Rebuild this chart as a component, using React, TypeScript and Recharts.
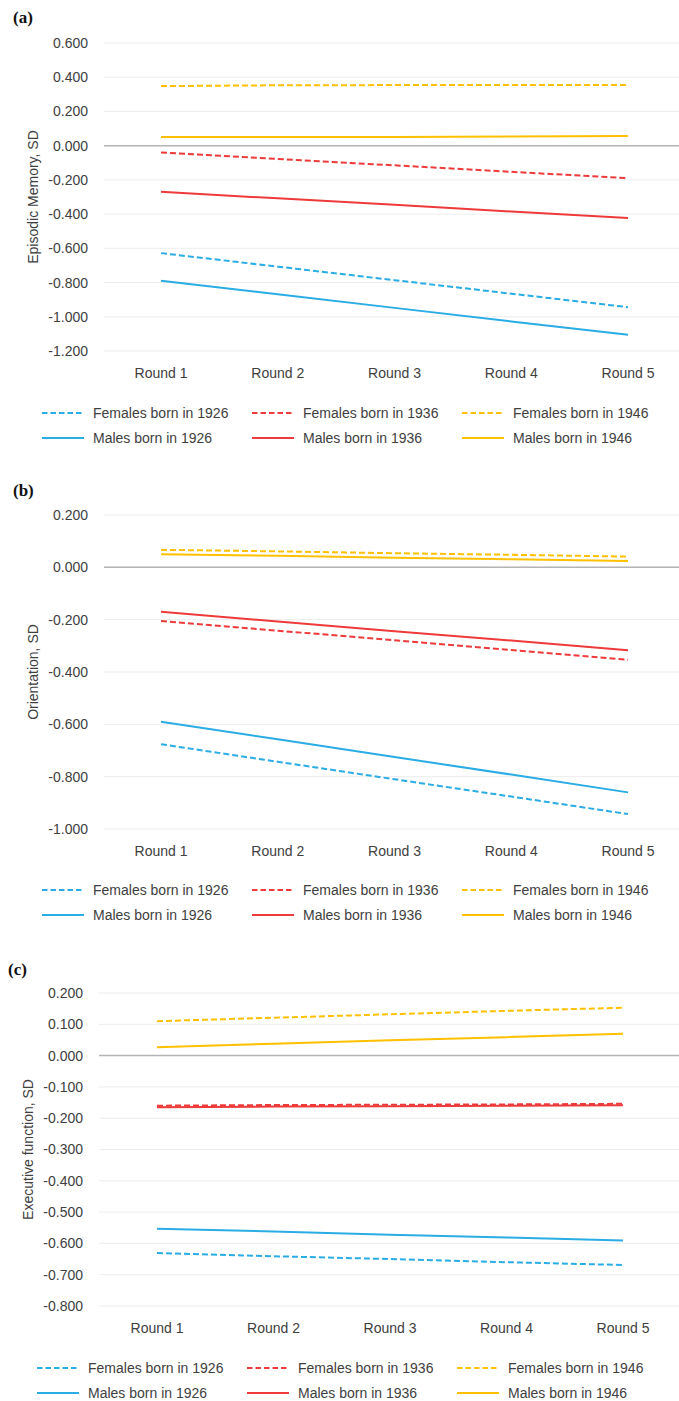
import { CartesianGrid, Legend, Line, LineChart, ReferenceLine, XAxis, YAxis } from "recharts";

const rounds = ["Round 1", "Round 2", "Round 3", "Round 4", "Round 5"];

// (a) Episodic memory
const memF1926 = [-0.628, -0.707, -0.786, -0.865, -0.944];
const memF1936 = [-0.04, -0.078, -0.115, -0.153, -0.19];
const memF1946 = [0.348, 0.353, 0.354, 0.355, 0.355];
const memM1926 = [-0.79, -0.869, -0.948, -1.027, -1.105];
const memM1936 = [-0.27, -0.308, -0.346, -0.385, -0.423];
const memM1946 = [0.05, 0.05, 0.051, 0.054, 0.056];
const memTicks = [0.6, 0.4, 0.2, 0, -0.2, -0.4, -0.6, -0.8, -1.0, -1.2];

// (b) Orientation
const oriF1926 = [-0.676, -0.743, -0.81, -0.876, -0.943];
const oriF1936 = [-0.205, -0.242, -0.279, -0.316, -0.353];
const oriF1946 = [0.067, 0.061, 0.054, 0.048, 0.041];
const oriM1926 = [-0.59, -0.657, -0.725, -0.792, -0.86];
const oriM1936 = [-0.17, -0.207, -0.244, -0.28, -0.317];
const oriM1946 = [0.05, 0.044, 0.037, 0.031, 0.024];
const oriTicks = [0.2, 0, -0.2, -0.4, -0.6, -0.8, -1.0];

// (c) Executive function
const exeF1926 = [-0.631, -0.641, -0.65, -0.66, -0.669];
const exeF1936 = [-0.16, -0.158, -0.157, -0.156, -0.154];
const exeF1946 = [0.11, 0.121, 0.132, 0.143, 0.153];
const exeM1926 = [-0.553, -0.562, -0.572, -0.581, -0.591];
const exeM1936 = [-0.165, -0.163, -0.162, -0.16, -0.159];
const exeM1946 = [0.027, 0.038, 0.049, 0.059, 0.07];
const exeTicks = [0.2, 0.1, 0, -0.1, -0.2, -0.3, -0.4, -0.5, -0.6, -0.7, -0.8];

const BLUE = "#2AACE4";
const RED = "#EE3A3A";
const GOLD = "#FFC000";
const FONT = '"Liberation Sans", Arial, sans-serif';
const TEXT = "#404040";

const series = [
  { key: "f1926", name: "Females born in 1926", color: BLUE, dashed: true },
  { key: "f1936", name: "Females born in 1936", color: RED, dashed: true },
  { key: "f1946", name: "Females born in 1946", color: GOLD, dashed: true },
  { key: "m1926", name: "Males born in 1926", color: BLUE, dashed: false },
  { key: "m1936", name: "Males born in 1936", color: RED, dashed: false },
  { key: "m1946", name: "Males born in 1946", color: GOLD, dashed: false },
];

function rows(f26: number[], f36: number[], f46: number[], m26: number[], m36: number[], m46: number[]) {
  return rounds.map((round, i) => ({
    round,
    f1926: f26[i],
    f1936: f36[i],
    f1946: f46[i],
    m1926: m26[i],
    m1936: m36[i],
    m1946: m46[i],
  }));
}

function LegendGrid({ shift }: { shift: number }) {
  return (
    <div style={{ position: "relative", width: 679, height: 50, fontFamily: FONT, fontSize: 14, color: TEXT }}>
      {series.map((s, i) => {
        const left = 42 + shift + (i % 3) * 210;
        const top = Math.floor(i / 3) * 25;
        return (
          <div key={s.key} style={{ position: "absolute", left, top, height: 25, display: "flex", alignItems: "center", whiteSpace: "nowrap" }}>
            <svg width={42} height={6} style={{ marginRight: 9 }}>
              <line x1={0} y1={3} x2={42} y2={3} stroke={s.color} strokeWidth={2} strokeDasharray={s.dashed ? "5.5 3" : undefined} />
            </svg>
            <span>{s.name}</span>
          </div>
        );
      })}
    </div>
  );
}

interface PanelProps {
  tag: string;
  tagTop: number;
  top: number;
  height: number;
  plotTop: number;
  plotBottom: number;
  axisWidth: number;
  padLeft: number;
  padRight: number;
  ticks: number[];
  title: string;
  titleX: number;
  legendTop: number;
  shift: number;
  data: ReturnType<typeof rows>;
}

function Panel(p: PanelProps) {
  const xAxisHeight = 30;
  const domain = [p.ticks[p.ticks.length - 1], p.ticks[0]];
  const mid = (p.plotTop + p.plotBottom) / 2;
  return (
    <div style={{ position: "absolute", left: 0, top: p.top, width: 679, height: p.height }}>
      <div
        style={{
          position: "absolute",
          left: p.shift + 13,
          top: p.tagTop,
          fontFamily: '"Liberation Serif", "Times New Roman", serif',
          fontWeight: "bold",
          fontSize: 17,
          lineHeight: "17px",
          color: "#111",
          zIndex: 2,
        }}
      >
        {p.tag}
      </div>
      <LineChart
        width={679}
        height={p.height}
        data={p.data}
        margin={{ top: p.plotTop, right: 0, left: 0, bottom: p.height - p.plotBottom - xAxisHeight }}
      >
        <CartesianGrid horizontal vertical={false} stroke="#EDEDED" strokeWidth={1} />
        <XAxis
          dataKey="round"
          axisLine={false}
          tickLine={false}
          tickSize={0}
          tickMargin={17}
          height={xAxisHeight}
          interval={0}
          padding={{ left: p.padLeft, right: p.padRight }}
          tick={{ fontFamily: FONT, fontSize: 14, fill: TEXT }}
        />
        <YAxis
          type="number"
          domain={domain}
          ticks={p.ticks}
          interval={0}
          width={p.axisWidth}
          axisLine={false}
          tickLine={false}
          tickSize={0}
          tickMargin={16}
          tickFormatter={(v: number) => v.toFixed(3)}
          tick={{ fontFamily: FONT, fontSize: 14, fill: TEXT }}
          label={{
            content: () => (
              <text
                x={p.titleX}
                y={mid}
                transform={`rotate(-90 ${p.titleX} ${mid})`}
                textAnchor="middle"
                dominantBaseline="central"
                fontFamily={FONT}
                fontSize={14}
                fill={TEXT}
              >
                {p.title}
              </text>
            ),
          }}
        />
        <ReferenceLine y={0} stroke="#B4B4B4" strokeWidth={1.5} />
        {series.map((s) => (
          <Line
            key={s.key}
            type="linear"
            dataKey={s.key}
            name={s.name}
            stroke={s.color}
            strokeWidth={2}
            strokeDasharray={s.dashed ? "6 3" : undefined}
            dot={false}
            activeDot={false}
            isAnimationActive={false}
          />
        ))}
        <Legend
          layout="horizontal"
          verticalAlign="middle"
          align="center"
          wrapperStyle={{ top: p.legendTop, left: 0, width: 679 }}
          content={() => <LegendGrid shift={p.shift} />}
        />
      </LineChart>
    </div>
  );
}

export default function App() {
  return (
    <div style={{ position: "absolute", left: 0, top: 0, width: 679, height: 1401, background: "#fff", overflow: "hidden" }}>
      <Panel
        tag="(a)"
        tagTop={9}
        top={0}
        height={460}
        plotTop={43}
        plotBottom={351}
        axisWidth={104}
        padLeft={57}
        padRight={51}
        ticks={memTicks}
        title="Episodic Memory, SD"
        titleX={33}
        legendTop={400}
        shift={0}
        data={rows(memF1926, memF1936, memF1946, memM1926, memM1936, memM1946)}
      />
      <Panel
        tag="(b)"
        tagTop={12}
        top={470}
        height={460}
        plotTop={45}
        plotBottom={359}
        axisWidth={104}
        padLeft={57}
        padRight={51}
        ticks={oriTicks}
        title="Orientation, SD"
        titleX={33}
        legendTop={407}
        shift={0}
        data={rows(oriF1926, oriF1936, oriF1946, oriM1926, oriM1936, oriM1946)}
      />
      <Panel
        tag="(c)"
        tagTop={31}
        top={930}
        height={471}
        plotTop={63}
        plotBottom={376}
        axisWidth={99}
        padLeft={58}
        padRight={56}
        ticks={exeTicks}
        title="Executive function, SD"
        titleX={28}
        legendTop={425}
        shift={-5}
        data={rows(exeF1926, exeF1936, exeF1946, exeM1926, exeM1936, exeM1946)}
      />
    </div>
  );
}
